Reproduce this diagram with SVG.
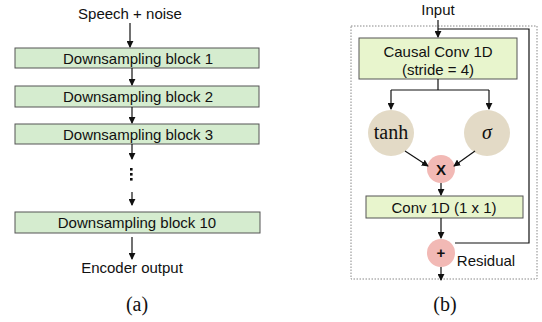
<svg xmlns="http://www.w3.org/2000/svg" width="542" height="322" viewBox="0 0 542 322">
<defs>
<marker id="ah" viewBox="0 0 8 8" refX="7" refY="4" markerWidth="7" markerHeight="7" orient="auto" markerUnits="userSpaceOnUse">
<path d="M0,0 L8,4 L0,8 z" fill="#111"/>
</marker>
<style>
.t{font-family:"Liberation Sans",Arial,sans-serif;font-size:15px;fill:#111;text-anchor:middle;dominant-baseline:central}
.s{font-family:"Liberation Serif","Times New Roman",serif;font-size:20px;fill:#111;text-anchor:middle;dominant-baseline:central}
.ga{fill:#d5eccf;stroke:#555;stroke-width:1}
.gb{fill:#e8f5cd;stroke:#555;stroke-width:1}
.tan{fill:#e3dac6}
.pk{fill:#f2b9b5}
.dot{fill:#111}
.ln{stroke:#111;stroke-width:1.2;fill:none}
.ar{stroke:#111;stroke-width:1.2;fill:none;marker-end:url(#ah)}
</style>
</defs>
<!-- Panel (a) -->
<text class="t" x="130" y="13">Speech + noise</text>
<g id="blk1"><rect class="ga" x="15" y="48" width="244" height="20"/><text class="t" x="138" y="58">Downsampling block 1</text></g>
<g id="blk2"><rect class="ga" x="15" y="86" width="244" height="21"/><text class="t" x="138" y="96.5">Downsampling block 2</text></g>
<g id="blk3"><rect class="ga" x="15" y="124" width="244" height="20"/><text class="t" x="138" y="134">Downsampling block 3</text></g>
<g id="dots"><rect class="dot" x="130" y="168" width="2.6" height="2.6"/><rect class="dot" x="130" y="173" width="2.6" height="2.6"/><rect class="dot" x="130" y="178" width="2.6" height="2.6"/></g>
<g id="blk10"><rect class="ga" x="15" y="212" width="245" height="21"/><text class="t" x="137" y="222.5">Downsampling block 10</text></g>
<text class="t" x="132" y="267">Encoder output</text>
<text class="s" x="137" y="304">(a)</text>
<!-- Panel (b) -->
<rect x="351" y="26" width="186" height="253" fill="none" stroke="#888" stroke-width="1" stroke-dasharray="1.5,1.5"/>
<text class="t" x="438" y="9">Input</text>
<g id="causal"><rect class="gb" x="359" y="38" width="158" height="41"/><text class="t" x="438" y="51">Causal Conv 1D</text><text class="t" x="438" y="69">(stride = 4)</text></g>
<g id="tanh"><circle class="tan" cx="391" cy="133" r="23"/><text class="s" x="391" y="132" font-size="17">tanh</text></g>
<g id="sigma"><circle class="tan" cx="487" cy="133" r="23"/><text class="s" x="487" y="132" font-style="italic" font-size="17">σ</text></g>
<g id="mul"><circle class="pk" cx="441" cy="169" r="14"/><text class="t" x="441" y="169" font-size="16" font-weight="bold">X</text></g>
<g id="conv1"><rect class="gb" x="366" y="196" width="157" height="22"/><text class="t" x="444" y="207">Conv 1D (1 x 1)</text></g>
<g id="add"><circle class="pk" cx="441" cy="253" r="14"/><text class="t" x="441" y="252" font-size="21" font-weight="bold">+</text></g>
<text class="t" x="486" y="260">Residual</text>
<text class="s" x="445" y="304">(b)</text>
<g id="connectors">
<line class="ar" x1="130" y1="23" x2="130" y2="47"/>
<line class="ar" x1="132" y1="68" x2="132" y2="85"/>
<line class="ar" x1="132" y1="107" x2="132" y2="123"/>
<line class="ar" x1="132" y1="144" x2="132" y2="159"/>
<line class="ar" x1="132" y1="192" x2="132" y2="205"/>
<line class="ar" x1="132" y1="237" x2="132" y2="259"/>
<line class="ar" x1="438" y1="20" x2="438" y2="37"/>
<polyline class="ln" points="438,29 529,29 529,243 455,243"/>
<line class="ln" x1="438" y1="79" x2="438" y2="90"/>
<line class="ln" x1="391" y1="90" x2="489" y2="90"/>
<line class="ar" x1="391" y1="90" x2="391" y2="109"/>
<line class="ar" x1="489" y1="90" x2="489" y2="109"/>
<line class="ar" x1="405" y1="151" x2="428" y2="166"/>
<line class="ar" x1="475" y1="151" x2="454" y2="166"/>
<line class="ar" x1="441" y1="183" x2="441" y2="195"/>
<line class="ar" x1="441" y1="218" x2="441" y2="238"/>
<line class="ar" x1="441" y1="267" x2="441" y2="280"/>
</g>
</svg>
